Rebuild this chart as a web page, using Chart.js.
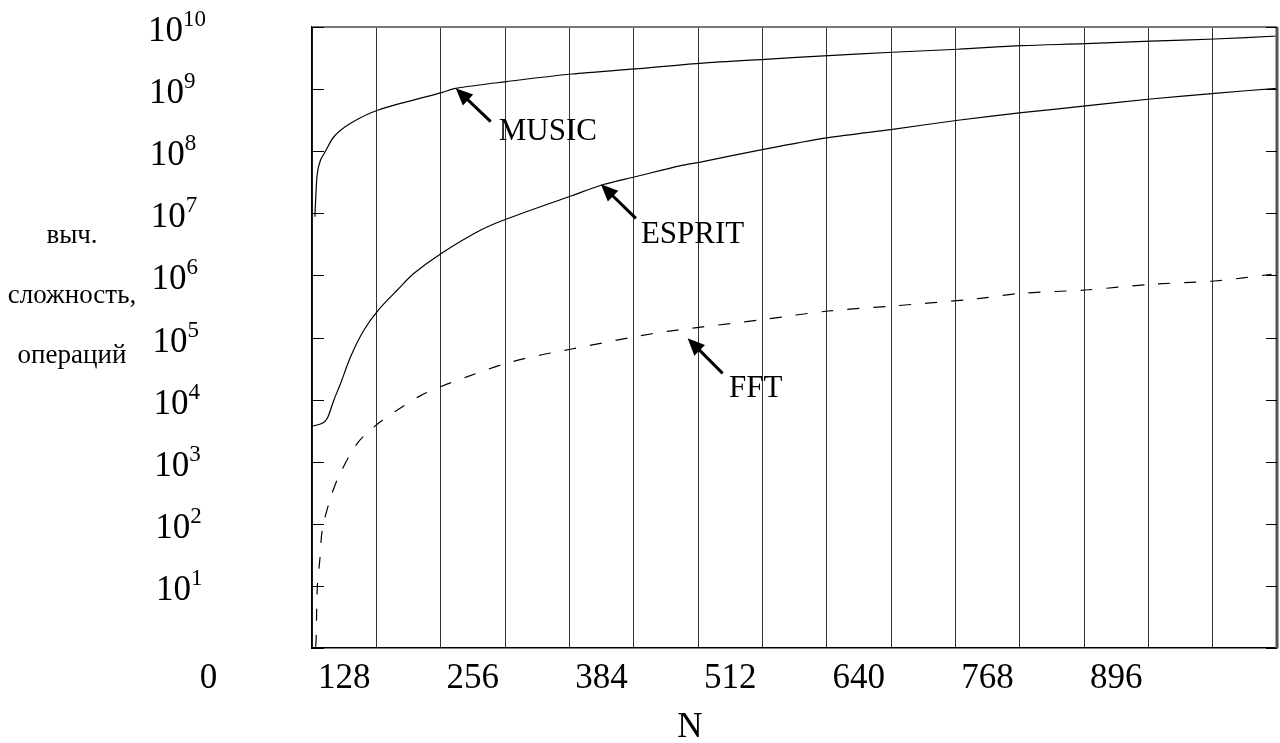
<!DOCTYPE html>
<html><head><meta charset="utf-8">
<script src="https://cdn.jsdelivr.net/npm/chart.js@4/dist/chart.umd.min.js"></script>
<style>html,body{margin:0;padding:0;background:#fff;} canvas{display:block;}</style>
</head><body>
<canvas id="c" width="1280" height="743" style="width:1280px;height:743px"></canvas>
<script>
// ---- data ----
const xGridN = [96,160,224,288,352,416,480,544,608,672,736,800,864,928,992,1056];
const xTickLabels = [0,128,256,384,512,640,768,896];
const yTickExponents = [0,1,2,3,4,5,6,7,8,9,10];

const musicN   = [98.9,99.6,101.3,104.5,108.8,117.8,134.4,162.0,225.7,239,289.5,354.5,417.5,481.2,546.4,609.7,673.4,738.5,801.8,865.6,930.3,994,1056];
const musicOps = [8.8e6,1.62e7,4.41e7,7.21e7,9.6e7,1.71e8,2.81e8,4.6e8,8.87e8,1.03e9,1.32e9,1.75e9,2.11e9,2.6e9,3.02e9,3.45e9,3.92e9,4.38e9,5.0e9,5.38e9,5.94e9,6.41e9,7.16e9];

const espritN   = [96.9,106.2,111.2,117.8,124.5,134.4,147.7,162.0,180.9,197.5,225.7,263.9,289.5,354.5,384.3,417.5,463,481.2,546.4,609.7,673.6,738.6,801.8,865.6,930.3,994,1056];
const espritOps = [3.76e3,4.15e3,5.0e3,9.86e3,1.83e4,4.91e4,1.32e5,2.77e5,5.82e5,1.08e6,2.32e6,5.38e6,8.1e6,1.92e7,2.86e7,3.88e7,5.85e7,6.62e7,1.08e8,1.65e8,2.25e8,3.15e8,4.17e8,5.35e8,6.93e8,8.56e8,1.03e9];

const fftN   = [99.6,100.1,101.3,103.9,106.2,113.8,122.8,141.1,162.0,180.9,204.1,225.7,250.6,289.5,323.6,354.5,417.5,451.4,481.2,546,609.7,673.4,755,801.8,865.3,930.7,994,1050.5];
const fftOps = [1.05,1.35,9.7,27.8,79.4,241,589,1.98e3,4.15e3,6.8e3,1.16e4,1.66e4,2.34e4,3.85e4,5.23e4,6.53e4,1.03e5,1.27e5,1.46e5,1.96e5,2.67e5,3.21e5,4.17e5,5.15e5,5.82e5,7.19e5,8.13e5,1.04e6];

// annotation anchors in data coordinates (N, operations)
const notes = [
  {text:'MUSIC',  tipN:239,   tipV:1.03e9, tailN:273.8, tailV:2.99e8, txtN:281.8, txtV:1.51e8},
  {text:'ESPRIT', tipN:383.4, tipV:2.93e7, tailN:418.2, tailV:8.3e6,  txtN:423.2, txtV:3.33e6},
  {text:'FFT',    tipN:469.7, tipV:9.7e4,  tailN:504.5, tailV:2.65e4, txtN:510.8, txtV:1.1e4}
];
const yTitleLines = ['выч.','сложность,','операций'];
const xTitle = 'N';

const SERIF = '"Liberation Serif", "Times New Roman", serif';
const pts = (xs, ys) => xs.map((x,i)=>({x, y: ys[i]}));

const decor = {
  id:'decor',
  afterDraw(chart){
    const ctx = chart.ctx, a = chart.chartArea;
    const xs = chart.scales.x, ys = chart.scales.y;
    ctx.save();
    // top & right frame
    ctx.strokeStyle = '#777'; ctx.lineWidth = 2;
    ctx.beginPath(); ctx.moveTo(a.left, a.top); ctx.lineTo(a.right, a.top); ctx.stroke();
    ctx.strokeStyle = '#555'; ctx.lineWidth = 3;
    ctx.beginPath(); ctx.moveTo(a.right, a.top); ctx.lineTo(a.right, a.bottom); ctx.stroke();
    // inner tick marks on y
    ctx.strokeStyle = '#000'; ctx.lineWidth = 1;
    yTickExponents.forEach(k=>{
      const py = Math.round(ys.getPixelForValue(Math.pow(10,k))) + 0.5;
      ctx.beginPath(); ctx.moveTo(a.left, py); ctx.lineTo(a.left + 12, py);
      ctx.moveTo(a.right - 11, py); ctx.lineTo(a.right, py); ctx.stroke();
    });
    // y labels 10^k
    ctx.fillStyle = '#000'; ctx.textBaseline = 'alphabetic';
    yTickExponents.forEach(k=>{
      if (k === 0) return;
      const py = ys.getPixelForValue(Math.pow(10,k));
      const left = 148 + (10 - k) * 0.9;
      const base = py + 14;
      ctx.font = '35px ' + SERIF; ctx.textAlign = 'left';
      ctx.fillText('10', left, base);
      const w = ctx.measureText('10').width;
      ctx.font = '23px ' + SERIF;
      ctx.fillText(String(k), left + w, base - 15);
    });
    // x labels
    ctx.font = '35px ' + SERIF; ctx.textAlign = 'center';
    xTickLabels.forEach(v=>{
      ctx.fillText(String(v), xs.getPixelForValue(v) - (v===0?7:0), 688);
    });
    ctx.fillText(xTitle, 690, 737);
    // y title
    ctx.font = '27px ' + SERIF;
    yTitleLines.forEach((t,i)=> ctx.fillText(t, 72, 243 + i*60));
    // annotations
    notes.forEach(n=>{
      const tx = xs.getPixelForValue(n.tipN), ty = ys.getPixelForValue(n.tipV);
      const lx = xs.getPixelForValue(n.tailN), ly = ys.getPixelForValue(n.tailV);
      const ang = Math.atan2(ty-ly, tx-lx), L = 17, H = 7.5;
      const bx = tx - L*Math.cos(ang), by = ty - L*Math.sin(ang);
      ctx.strokeStyle = '#000'; ctx.lineWidth = 3;
      ctx.beginPath(); ctx.moveTo(lx, ly); ctx.lineTo(bx + 2*Math.cos(ang), by + 2*Math.sin(ang)); ctx.stroke();
      ctx.beginPath(); ctx.moveTo(tx, ty);
      ctx.lineTo(bx + H*Math.sin(ang), by - H*Math.cos(ang));
      ctx.lineTo(bx - H*Math.sin(ang), by + H*Math.cos(ang));
      ctx.closePath(); ctx.fill();
      ctx.font = '31px ' + SERIF; ctx.textAlign = 'left';
      ctx.fillText(n.text, xs.getPixelForValue(n.txtN), ys.getPixelForValue(n.txtV));
    });
    ctx.restore();
  }
};

new Chart(document.getElementById('c'), {
  type:'line',
  data:{ datasets:[
    {label:'MUSIC',  data:pts(musicN, musicOps),   borderColor:'#000', borderWidth:1.2, pointRadius:0, tension:0.3, fill:false},
    {label:'ESPRIT', data:pts(espritN, espritOps), borderColor:'#000', borderWidth:1.2, pointRadius:0, tension:0.3, fill:false},
    {label:'FFT',    data:pts(fftN, fftOps),       borderColor:'#000', borderWidth:1.2, pointRadius:0, tension:0.3, fill:false, borderDash:[12,14]}
  ]},
  options:{
    responsive:false, animation:false, devicePixelRatio:1,
    layout:{padding:{left:312, right:3, top:27, bottom:0}},
    plugins:{legend:{display:false}, tooltip:{enabled:false}},
    scales:{
      x:{type:'linear', min:96, max:1056,
         afterBuildTicks:s=>{ s.ticks = xGridN.map(v=>({value:v})); },
         afterFit:s=>{ s.height = 95; },
         ticks:{display:false},
         grid:{color:'#333', lineWidth:1, drawTicks:false},
         border:{display:true, color:'#000', width:1.5}},
      y:{type:'logarithmic', min:1, max:1e10,
         afterBuildTicks:s=>{ s.ticks = yTickExponents.map(k=>({value:Math.pow(10,k)})); },
         afterFit:s=>{ s.width = 0; },
         ticks:{display:false},
         grid:{display:false, drawTicks:false},
         border:{display:true, color:'#000', width:1.5}}
    }
  },
  plugins:[decor]
});
</script></body></html>
